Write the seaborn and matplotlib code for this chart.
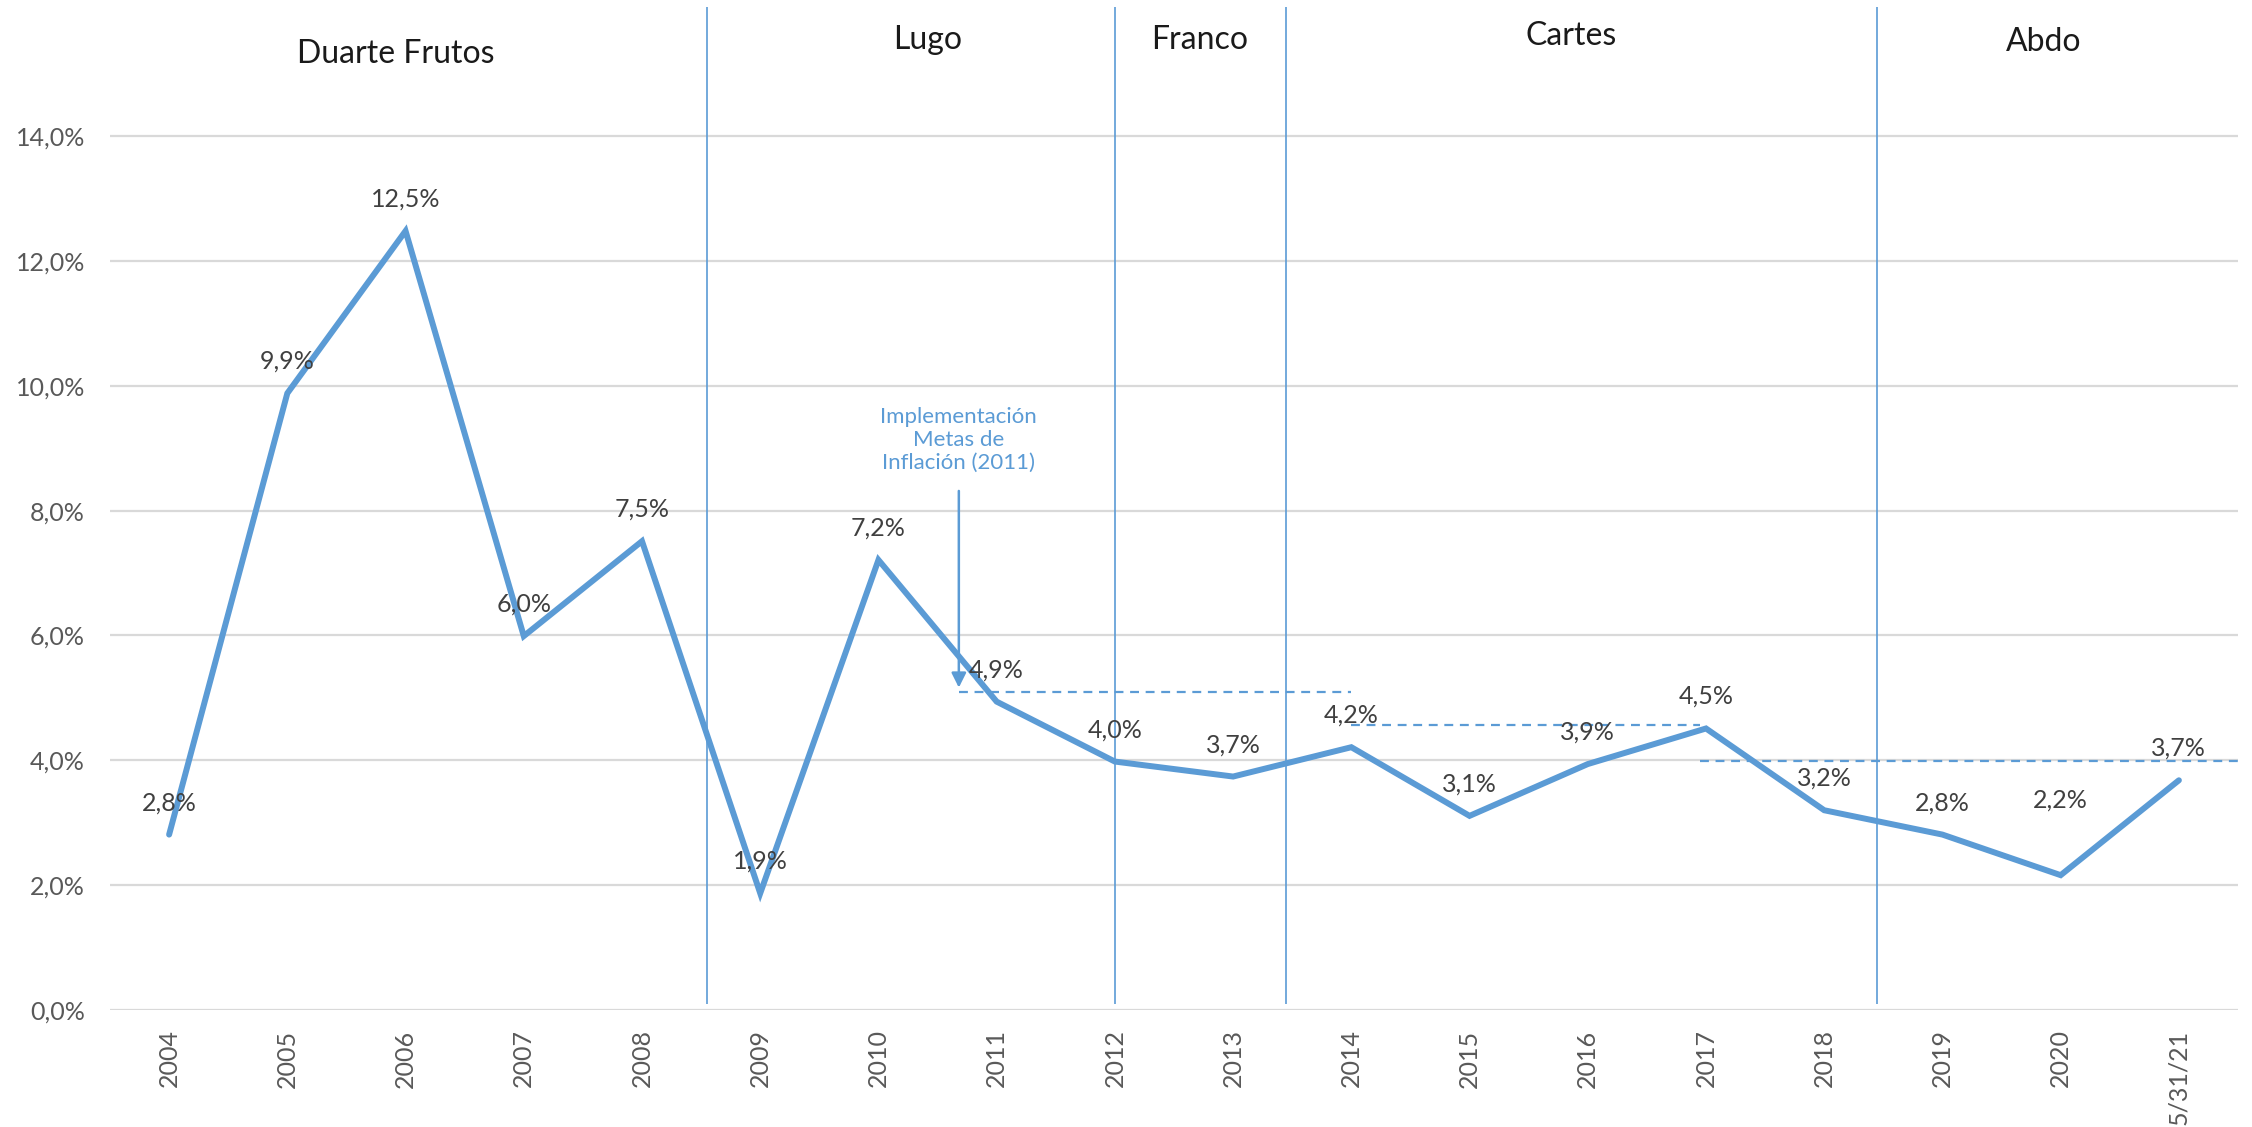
import numpy as np
import matplotlib
matplotlib.use('Agg')
import matplotlib.pyplot as plt
import seaborn as sns

# data
years = ['2004', '2005', '2006', '2007', '2008', '2009', '2010', '2011', '2012',
         '2013', '2014', '2015', '2016', '2017', '2018', '2019', '2020', '5/31/21']
inflation = [2.81, 9.88, 12.48, 5.99, 7.51, 1.87, 7.21, 4.94, 3.98,
             3.74, 4.21, 3.11, 3.94, 4.51, 3.20, 2.81, 2.16, 3.68]
presidents = ['Duarte Frutos', 'Lugo', 'Franco', 'Cartes', 'Abdo']
# target bands (dashed): start idx, end idx, level
target_start = [6.68, 10.0, 12.95]
target_end = [10.0, 12.95, 17.5]
target_level = [5.09, 4.56, 3.99]

# layout
name_x = [1.92, 6.42, 8.72, 11.86, 15.86]
name_y = [15.31, 15.54, 15.54, 15.61, 15.50]
divider_x = [4.55, 8.0, 9.45, 14.45]

blue = '#5B9BD5'
sns.set_theme(style='white')
plt.rcParams['font.family'] = ['Lato', 'DejaVu Sans']

fig = plt.figure(figsize=(22.52, 11.27), dpi=100)
ax = fig.add_axes([110 / 2252, 117 / 1127, 2128 / 2252, 1005 / 1127])

x = np.arange(len(years))
for yv in range(0, 16, 2):
    ax.axhline(yv, color='#D9D9D9', lw=1.6, zorder=0)

ax.vlines(divider_x, 0.1, 16.06, color=blue, lw=1.2, zorder=1)

for s, e, lv in zip(target_start, target_end, target_level):
    ax.plot([s, e], [lv, lv], color=blue, lw=1.6, ls=(0, (4, 3)), zorder=2)

sns.lineplot(ax=ax, x=x, y=inflation, color=blue, lw=4.3, zorder=3,
             solid_capstyle='round', solid_joinstyle='miter')

for i, v in enumerate(inflation):
    off = 54 if i == 16 else 23
    ax.annotate(f'{v:.1f}'.replace('.', ',') + '%', (i, v), xytext=(0, off),
                textcoords='offset points', ha='center', va='center',
                fontsize=18, color='#404040', zorder=4)

for name, nx, ny in zip(presidents, name_x, name_y):
    ax.text(nx, ny, name, ha='center', va='center', fontsize=23, color='#1a1a1a')

ax.annotate('', xy=(6.68, 5.12), xytext=(6.68, 8.36),
            arrowprops=dict(arrowstyle='-|>', color=blue, lw=1.8, mutation_scale=22))
ax.text(6.68, 8.6, 'Implementación\nMetas de\nInflación (2011)', ha='center',
        va='bottom', fontsize=16, color=blue, linespacing=1.2)

ax.set_xlim(-0.5, 17.5)
ax.set_ylim(0, 16.1)
ax.set_xticks(x)
ax.set_xticklabels(years, rotation=90, fontsize=18, color='#595959')
yt = np.arange(0, 15, 2)
ax.set_yticks(yt)
ax.set_yticklabels([f'{v:.1f}'.replace('.', ',') + '%' for v in yt],
                   fontsize=18, color='#595959')
ax.tick_params(axis='x', length=0, pad=14)
ax.tick_params(axis='y', length=0, pad=18)
for sp in ax.spines.values():
    sp.set_visible(False)

fig.savefig('out.png', dpi=100, facecolor='white')
